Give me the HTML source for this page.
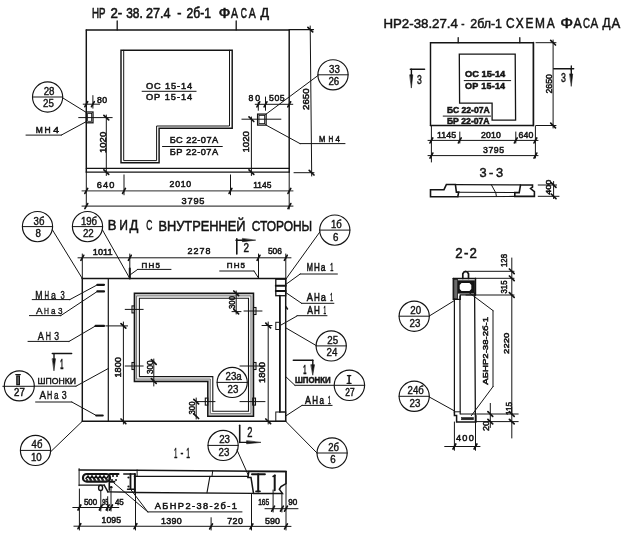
<!DOCTYPE html>
<html><head><meta charset="utf-8"><style>
html,body{margin:0;padding:0;background:#fff;width:631px;height:537px;overflow:hidden;}
svg{display:block;filter:blur(0.3px);}
text{font-family:"Liberation Sans",sans-serif;fill:#141414;}
</style></head><body>
<svg width="631" height="537" viewBox="0 0 631 537" stroke="#141414" stroke-linecap="round">
<rect x="0" y="0" width="631" height="537" fill="#fff" stroke="none"/>
<g>
<text transform="translate(92.10,17.80) scale(0.674,1)" font-size="14.4" stroke="#141414" stroke-width="0.6">НР</text>
<text transform="translate(110.40,17.80) scale(0.921,1)" font-size="14.4" stroke="#141414" stroke-width="0.6">2-</text>
<text transform="translate(126.20,17.80) scale(0.829,1)" font-size="14.4" stroke="#141414" stroke-width="0.6">38.</text>
<text transform="translate(146.00,17.80) scale(0.878,1)" font-size="14.4" stroke="#141414" stroke-width="0.6">27.4</text>
<text transform="translate(177.30,17.80) scale(0.871,1)" font-size="14.4" stroke="#141414" stroke-width="0.6">-</text>
<text transform="translate(186.60,17.80) scale(0.839,1)" font-size="14.4" stroke="#141414" stroke-width="0.6">2б-1</text>
<text transform="translate(218.80,17.80) scale(1.060,1)" font-size="14.4" stroke="#141414" stroke-width="0.6">Ф</text>
<text transform="translate(231.00,17.80) scale(0.726,1)" font-size="14.4" stroke="#141414" stroke-width="0.6">А</text>
<text transform="translate(240.80,17.80) scale(0.588,1)" font-size="14.4" stroke="#141414" stroke-width="0.6">С</text>
<text transform="translate(248.80,17.80) scale(0.726,1)" font-size="14.4" stroke="#141414" stroke-width="0.6">А</text>
<text transform="translate(260.50,17.00) scale(0.954,1)" font-size="13.2" stroke="#141414" stroke-width="0.6">Д</text>
<line x1="117.2" y1="21.0" x2="117.2" y2="29.9" stroke-width="1.3"/>
<line x1="236.2" y1="21.0" x2="236.2" y2="29.9" stroke-width="1.3"/>
<line x1="86.3" y1="29.9" x2="289.2" y2="29.9" stroke-width="1.45"/>
<line x1="86.3" y1="29.9" x2="86.3" y2="172.1" stroke-width="1.45"/>
<line x1="86.3" y1="172.1" x2="86.3" y2="206.5" stroke-width="1.0"/>
<line x1="289.2" y1="29.9" x2="289.2" y2="172.1" stroke-width="1.45"/>
<line x1="289.2" y1="172.1" x2="289.2" y2="209.0" stroke-width="1.0"/>
<line x1="86.3" y1="168.4" x2="289.2" y2="168.4" stroke-width="1.1"/>
<line x1="86.3" y1="172.1" x2="289.2" y2="172.1" stroke-width="1.45"/>
<polygon points="121.0,50.3 232.2,50.3 232.2,128.2 159.1,128.2 159.1,162.8 121.0,162.8" fill="none" stroke-width="1.45"/>
<polyline points="123.7,50.3 123.7,160.6 156.6,160.6 156.6,126.0 229.5,126.0 229.5,50.3" fill="none" stroke-width="1.0"/>
<text transform="translate(145.90,88.60) scale(1.050,1)" font-size="8.8" stroke="#141414" stroke-width="0.5" letter-spacing="0.86">ОС 15-14</text>
<line x1="142.1" y1="91.3" x2="196.1" y2="91.3" stroke-width="1.0"/>
<text transform="translate(145.90,100.30) scale(1.050,1)" font-size="8.8" stroke="#141414" stroke-width="0.5" letter-spacing="0.93">ОР 15-14</text>
<text transform="translate(169.70,143.40) scale(1.050,1)" font-size="8.8" stroke="#141414" stroke-width="0.5" letter-spacing="0.41">БС 22-07А</text>
<line x1="162.5" y1="146.5" x2="222.3" y2="146.5" stroke-width="1.0"/>
<text transform="translate(169.70,154.90) scale(1.050,1)" font-size="8.8" stroke="#141414" stroke-width="0.5" letter-spacing="0.46">БР 22-07А</text>
<rect x="86.3" y="112.0" width="6.7" height="10.8" fill="none" stroke-width="1.3"/>
<rect x="87.6" y="113.4" width="4.0" height="7.9" fill="none" stroke-width="0.8"/>
<line x1="78.7" y1="117.6" x2="112.2" y2="117.6" stroke-width="1.0"/>
<line x1="83.2" y1="104.2" x2="99.6" y2="104.2" stroke-width="1.0"/>
<line x1="84.9" y1="106.7" x2="87.7" y2="101.7" stroke-width="1.7"/>
<line x1="91.5" y1="106.7" x2="94.3" y2="101.7" stroke-width="1.7"/>
<line x1="92.9" y1="95.6" x2="92.9" y2="108.2" stroke-width="1.0"/>
<text transform="translate(97.00,102.50) scale(1.050,1)" font-size="8.3" stroke="#141414" stroke-width="0.5" letter-spacing="0.31">80</text>
<circle cx="47.6" cy="97.0" r="15.1" fill="none" stroke-width="1.15"/>
<line x1="32.5" y1="97.0" x2="62.7" y2="97.0" stroke-width="1.0"/>
<text transform="translate(43.70,95.00) scale(0.954,1)" font-size="10.2" stroke="#141414" stroke-width="0.4">28</text>
<text transform="translate(43.00,107.40) scale(0.954,1)" font-size="10.2" stroke="#141414" stroke-width="0.4">25</text>
<line x1="62.9" y1="98.0" x2="85.6" y2="112.0" stroke-width="1.0"/>
<text transform="translate(35.70,133.40) scale(0.924,1)" font-size="9.2" stroke="#141414" stroke-width="0.55">М</text>
<text transform="translate(44.60,133.40) scale(0.921,1)" font-size="9.2" stroke="#141414" stroke-width="0.55">Н</text>
<text transform="translate(53.20,133.40) scale(1.116,1)" font-size="9.2" stroke="#141414" stroke-width="0.55">4</text>
<line x1="26.0" y1="135.1" x2="61.3" y2="135.1" stroke-width="1.0"/>
<line x1="61.3" y1="135.1" x2="86.3" y2="121.6" stroke-width="1.0"/>
<line x1="106.3" y1="115.0" x2="106.3" y2="175.5" stroke-width="1.0"/>
<line x1="103.9" y1="115.3" x2="108.7" y2="119.9" stroke-width="1.7"/>
<line x1="103.9" y1="169.8" x2="108.7" y2="174.4" stroke-width="1.7"/>
<text transform="translate(105.67,153.00) rotate(-90) scale(1.153,1)" font-size="8.3" stroke="#141414" stroke-width="0.5">1020</text>
<rect x="257.6" y="114.1" width="8.5" height="11.0" fill="none" stroke-width="1.3"/>
<rect x="259.0" y="115.5" width="5.6" height="8.1" fill="none" stroke-width="0.8"/>
<line x1="241.9" y1="119.2" x2="280.9" y2="119.2" stroke-width="1.0"/>
<text transform="translate(248.60,101.30) scale(1.050,1)" font-size="8.3" stroke="#141414" stroke-width="0.5" letter-spacing="1.64">80</text>
<text transform="translate(269.00,101.30) scale(1.050,1)" font-size="8.3" stroke="#141414" stroke-width="0.5" letter-spacing="0.55">505</text>
<line x1="255.2" y1="104.3" x2="292.8" y2="104.3" stroke-width="1.0"/>
<line x1="256.9" y1="106.8" x2="259.7" y2="101.8" stroke-width="1.7"/>
<line x1="264.1" y1="106.8" x2="266.9" y2="101.8" stroke-width="1.7"/>
<line x1="287.8" y1="106.8" x2="290.6" y2="101.8" stroke-width="1.7"/>
<line x1="258.3" y1="102.3" x2="258.3" y2="110.3" stroke-width="1.0"/>
<line x1="265.5" y1="97.0" x2="265.5" y2="110.3" stroke-width="1.0"/>
<text transform="translate(249.17,152.50) rotate(-90) scale(1.164,1)" font-size="8.3" stroke="#141414" stroke-width="0.5">1020</text>
<line x1="251.4" y1="117.0" x2="251.4" y2="175.5" stroke-width="1.0"/>
<line x1="249.0" y1="116.9" x2="253.8" y2="121.5" stroke-width="1.7"/>
<line x1="249.0" y1="169.8" x2="253.8" y2="174.4" stroke-width="1.7"/>
<circle cx="333.0" cy="74.8" r="15.1" fill="none" stroke-width="1.15"/>
<line x1="317.9" y1="74.8" x2="348.1" y2="74.8" stroke-width="1.0"/>
<text transform="translate(329.10,72.80) scale(0.954,1)" font-size="10.2" stroke="#141414" stroke-width="0.4">33</text>
<text transform="translate(328.40,85.20) scale(0.954,1)" font-size="10.2" stroke="#141414" stroke-width="0.4">26</text>
<line x1="318.0" y1="75.5" x2="266.1" y2="114.1" stroke-width="1.0"/>
<text transform="translate(318.90,141.70) scale(0.820,1)" font-size="9.2" stroke="#141414" stroke-width="0.55">М</text>
<text transform="translate(328.40,141.70) scale(0.710,1)" font-size="9.2" stroke="#141414" stroke-width="0.55">Н</text>
<text transform="translate(335.40,141.70) scale(0.862,1)" font-size="9.2" stroke="#141414" stroke-width="0.55">4</text>
<line x1="300.0" y1="143.6" x2="345.0" y2="143.6" stroke-width="1.0"/>
<line x1="300.0" y1="143.6" x2="266.1" y2="125.1" stroke-width="1.0"/>
<line x1="310.2" y1="26.0" x2="311.7" y2="176.0" stroke-width="1.0"/>
<line x1="307.9" y1="27.3" x2="312.7" y2="31.9" stroke-width="1.7"/>
<line x1="309.2" y1="170.4" x2="314.0" y2="175.0" stroke-width="1.7"/>
<line x1="289.2" y1="29.6" x2="313.5" y2="29.6" stroke-width="1.2"/>
<line x1="294.0" y1="172.7" x2="314.0" y2="172.7" stroke-width="1.0"/>
<text transform="translate(308.67,109.90) rotate(-90) scale(1.164,1)" font-size="8.3" stroke="#141414" stroke-width="0.5">2650</text>
<line x1="82.0" y1="190.9" x2="293.0" y2="190.9" stroke-width="0.9"/>
<line x1="84.9" y1="193.4" x2="87.7" y2="188.4" stroke-width="1.7"/>
<line x1="122.6" y1="193.4" x2="125.4" y2="188.4" stroke-width="1.7"/>
<line x1="229.1" y1="193.4" x2="231.9" y2="188.4" stroke-width="1.7"/>
<line x1="288.0" y1="193.4" x2="290.8" y2="188.4" stroke-width="1.7"/>
<line x1="124.0" y1="174.9" x2="124.0" y2="194.8" stroke-width="1.0"/>
<line x1="230.5" y1="174.9" x2="230.5" y2="194.8" stroke-width="1.0"/>
<text transform="translate(96.80,187.60) scale(1.050,1)" font-size="8.8" stroke="#141414" stroke-width="0.5" letter-spacing="1.08">640</text>
<text transform="translate(169.60,187.40) scale(1.050,1)" font-size="8.3" stroke="#141414" stroke-width="0.5" letter-spacing="0.67">2010</text>
<text transform="translate(253.20,187.50) scale(0.962,1)" font-size="8.8" stroke="#141414" stroke-width="0.5">1145</text>
<line x1="82.0" y1="206.1" x2="293.0" y2="206.1" stroke-width="1.0"/>
<line x1="84.9" y1="208.6" x2="87.7" y2="203.6" stroke-width="1.7"/>
<line x1="288.0" y1="208.6" x2="290.8" y2="203.6" stroke-width="1.7"/>
<text transform="translate(181.50,203.80) scale(1.050,1)" font-size="8.8" stroke="#141414" stroke-width="0.5" letter-spacing="0.77">3795</text>
<text transform="translate(383.40,28.20) scale(0.984,1)" font-size="13.5" stroke="#141414" stroke-width="0.5">НР2-38.27.4</text>
<text transform="translate(461.30,28.20) scale(0.730,1)" font-size="13.5" stroke="#141414" stroke-width="0.5">-</text>
<text transform="translate(470.30,28.20) scale(0.919,1)" font-size="13.5" stroke="#141414" stroke-width="0.5">2бл-1</text>
<text transform="translate(506.00,28.20) scale(0.850,1)" font-size="14.0" stroke="#141414" stroke-width="0.5" letter-spacing="2.09">СХЕМА</text>
<text transform="translate(560.20,28.20) scale(1.212,1)" font-size="14.0" stroke="#141414" stroke-width="0.5">Ф</text>
<text transform="translate(573.50,28.20) scale(0.885,1)" font-size="14.0" stroke="#141414" stroke-width="0.5">А</text>
<text transform="translate(583.00,28.20) scale(0.694,1)" font-size="14.0" stroke="#141414" stroke-width="0.5">С</text>
<text transform="translate(590.50,28.20) scale(0.821,1)" font-size="14.0" stroke="#141414" stroke-width="0.5">А</text>
<text transform="translate(602.50,27.40) scale(0.926,1)" font-size="12.8" stroke="#141414" stroke-width="0.5">Д</text>
<text transform="translate(611.60,28.20) scale(0.938,1)" font-size="14.0" stroke="#141414" stroke-width="0.5">А</text>
<line x1="430.5" y1="42.7" x2="533.4" y2="42.7" stroke-width="1.45"/>
<line x1="430.5" y1="125.5" x2="533.4" y2="125.5" stroke-width="1.45"/>
<line x1="430.5" y1="42.7" x2="430.5" y2="125.5" stroke-width="1.45"/>
<line x1="533.4" y1="42.7" x2="533.4" y2="125.5" stroke-width="1.7"/>
<line x1="458.2" y1="37.7" x2="458.2" y2="42.7" stroke-width="1.3"/>
<line x1="519.8" y1="37.7" x2="519.8" y2="42.7" stroke-width="1.3"/>
<polygon points="459.3,54.1 515.2,54.1 515.6,120.1 492.1,120.1 492.1,103.1 459.6,103.1" fill="none" stroke-width="1.3"/>
<text transform="translate(465.10,76.60) scale(1.076,1)" font-size="8.6" font-weight="bold" stroke="#141414" stroke-width="0.5">ОС 15-14</text>
<line x1="464.2" y1="80.6" x2="510.7" y2="80.6" stroke-width="1.0"/>
<text transform="translate(465.10,89.10) scale(1.050,1)" font-size="8.6" font-weight="bold" stroke="#141414" stroke-width="0.5" letter-spacing="0.20">ОР 15-14</text>
<text transform="translate(446.90,113.40) scale(1.022,1)" font-size="8.4" font-weight="bold" stroke="#141414" stroke-width="0.5">БС 22-07А</text>
<line x1="443.2" y1="116.1" x2="490.6" y2="116.1" stroke-width="1.0"/>
<text transform="translate(446.90,123.80) scale(1.030,1)" font-size="8.4" font-weight="bold" stroke="#141414" stroke-width="0.5">БР 22-07А</text>
<line x1="553.1" y1="40.0" x2="553.1" y2="128.0" stroke-width="1.0"/>
<line x1="550.7" y1="40.4" x2="555.5" y2="45.0" stroke-width="1.7"/>
<line x1="550.7" y1="123.2" x2="555.5" y2="127.8" stroke-width="1.7"/>
<line x1="536.0" y1="42.7" x2="556.0" y2="42.7" stroke-width="1.0"/>
<line x1="536.0" y1="125.5" x2="556.0" y2="125.5" stroke-width="1.0"/>
<text transform="translate(552.27,93.50) rotate(-90) scale(1.056,1)" font-size="8.3" stroke="#141414" stroke-width="0.5">2650</text>
<line x1="410.3" y1="69.2" x2="424.6" y2="69.2" stroke-width="1.4"/>
<line x1="411.4" y1="69.2" x2="411.4" y2="74.8" stroke-width="1.4"/>
<polygon points="410.0,74.8 412.8,74.8 411.4,87.7" fill="#141414" stroke="#141414" stroke-width="0.6"/>
<text transform="translate(417.00,83.50) scale(0.641,1)" font-size="13.5" stroke="#141414" stroke-width="0.5">3</text>
<line x1="553.7" y1="68.7" x2="573.7" y2="68.7" stroke-width="1.4"/>
<line x1="571.3" y1="65.9" x2="571.3" y2="70.0" stroke-width="1.3"/>
<line x1="571.3" y1="68.7" x2="571.3" y2="73.9" stroke-width="1.4"/>
<polygon points="569.9,73.9 572.7,73.9 571.3,86.0" fill="#141414" stroke="#141414" stroke-width="0.6"/>
<text transform="translate(561.00,81.80) scale(0.654,1)" font-size="13.5" stroke="#141414" stroke-width="0.5">3</text>
<line x1="428.0" y1="140.4" x2="538.0" y2="140.4" stroke-width="1.0"/>
<line x1="430.0" y1="142.9" x2="432.8" y2="137.9" stroke-width="1.7"/>
<line x1="458.4" y1="142.9" x2="461.2" y2="137.9" stroke-width="1.7"/>
<line x1="514.4" y1="142.9" x2="517.2" y2="137.9" stroke-width="1.7"/>
<line x1="534.0" y1="142.9" x2="536.8" y2="137.9" stroke-width="1.7"/>
<line x1="431.4" y1="126.0" x2="431.4" y2="162.0" stroke-width="1.0"/>
<line x1="535.4" y1="126.0" x2="535.4" y2="158.0" stroke-width="1.0"/>
<line x1="459.8" y1="132.0" x2="459.8" y2="143.0" stroke-width="1.0"/>
<line x1="515.8" y1="132.0" x2="515.8" y2="143.0" stroke-width="1.0"/>
<text transform="translate(437.10,138.00) scale(1.065,1)" font-size="8.3" stroke="#141414" stroke-width="0.5">1145</text>
<text transform="translate(481.00,138.00) scale(1.050,1)" font-size="8.3" stroke="#141414" stroke-width="0.5" letter-spacing="0.19">2010</text>
<text transform="translate(518.50,138.00) scale(1.050,1)" font-size="8.3" stroke="#141414" stroke-width="0.5" letter-spacing="0.21">640</text>
<line x1="428.0" y1="155.6" x2="538.0" y2="155.6" stroke-width="1.0"/>
<line x1="430.0" y1="158.1" x2="432.8" y2="153.1" stroke-width="1.7"/>
<line x1="534.0" y1="158.1" x2="536.8" y2="153.1" stroke-width="1.7"/>
<text transform="translate(483.00,153.30) scale(1.050,1)" font-size="8.3" stroke="#141414" stroke-width="0.5" letter-spacing="0.51">3795</text>
<text transform="translate(479.40,177.30) scale(0.950,1)" font-size="13.5" stroke="#141414" stroke-width="0.5" letter-spacing="2.72">3-3</text>
<polygon points="430.5,196.7 430.5,189.7 444.0,189.7 446.4,184.5 455.4,184.5 456.4,192.1 458.7,192.1 457.8,196.7" fill="none" stroke-width="1.6"/>
<polygon points="520.5,185.0 532.5,185.0 532.5,187.2 530.6,188.5 534.4,191.6 534.4,196.4 514.8,196.4 514.8,192.6 519.2,192.6" fill="none" stroke-width="1.6"/>
<line x1="455.4" y1="184.6" x2="520.5" y2="184.9" stroke-width="1.1"/>
<line x1="458.7" y1="192.3" x2="514.8" y2="192.5" stroke-width="1.1"/>
<line x1="457.8" y1="196.8" x2="514.8" y2="196.4" stroke-width="1.1"/>
<polyline points="491.3,184.7 495.8,192.9 496.4,196.4" fill="none" stroke-width="1.0"/>
<line x1="538.2" y1="185.0" x2="556.6" y2="185.0" stroke-width="1.0"/>
<line x1="538.2" y1="196.3" x2="559.0" y2="196.3" stroke-width="1.0"/>
<line x1="553.6" y1="181.5" x2="553.6" y2="198.6" stroke-width="1.0"/>
<line x1="551.2" y1="182.7" x2="556.0" y2="187.3" stroke-width="1.7"/>
<line x1="551.2" y1="194.0" x2="556.0" y2="198.6" stroke-width="1.7"/>
<text transform="translate(551.12,194.80) rotate(-90) scale(1.198,1)" font-size="7.6" stroke="#141414" stroke-width="0.5">400</text>
<text transform="translate(107.80,230.40) scale(0.934,1)" font-size="14.0" stroke="#141414" stroke-width="0.5">В</text>
<text transform="translate(119.20,230.40) scale(0.863,1)" font-size="14.0" stroke="#141414" stroke-width="0.5">И</text>
<text transform="translate(129.60,230.40) scale(0.931,1)" font-size="14.0" stroke="#141414" stroke-width="0.5">Д</text>
<text transform="translate(146.20,230.40) scale(0.605,1)" font-size="14.0" stroke="#141414" stroke-width="0.5">С</text>
<text transform="translate(158.40,230.70) scale(0.916,1)" font-size="14.0" stroke="#141414" stroke-width="0.5">ВНУТРЕННЕЙ</text>
<text transform="translate(251.70,231.00) scale(0.853,1)" font-size="14.0" stroke="#141414" stroke-width="0.5">СТОРОНЫ</text>
<circle cx="37.5" cy="226.6" r="15.1" fill="none" stroke-width="1.15"/>
<line x1="22.4" y1="226.6" x2="52.6" y2="226.6" stroke-width="1.0"/>
<text transform="translate(33.60,224.60) scale(0.937,1)" font-size="10.2" stroke="#141414" stroke-width="0.4">3б</text>
<text transform="translate(35.60,237.00) scale(0.954,1)" font-size="10.2" stroke="#141414" stroke-width="0.4">8</text>
<circle cx="87.5" cy="226.6" r="15.1" fill="none" stroke-width="1.15"/>
<line x1="72.4" y1="226.6" x2="102.6" y2="226.6" stroke-width="1.0"/>
<text transform="translate(80.90,224.60) scale(0.943,1)" font-size="10.2" stroke="#141414" stroke-width="0.4">19б</text>
<text transform="translate(82.90,237.00) scale(0.954,1)" font-size="10.2" stroke="#141414" stroke-width="0.4">22</text>
<circle cx="334.8" cy="230.1" r="15.1" fill="none" stroke-width="1.15"/>
<line x1="319.7" y1="230.1" x2="349.9" y2="230.1" stroke-width="1.0"/>
<text transform="translate(330.90,228.10) scale(0.937,1)" font-size="10.2" stroke="#141414" stroke-width="0.4">1б</text>
<text transform="translate(332.90,240.50) scale(0.954,1)" font-size="10.2" stroke="#141414" stroke-width="0.4">6</text>
<line x1="52.5" y1="230.0" x2="82.3" y2="278.5" stroke-width="1.0"/>
<line x1="102.5" y1="230.0" x2="129.8" y2="278.5" stroke-width="1.0"/>
<line x1="319.8" y1="232.0" x2="285.8" y2="279.2" stroke-width="1.0"/>
<line x1="78.0" y1="257.8" x2="291.0" y2="257.8" stroke-width="1.0"/>
<line x1="80.9" y1="260.3" x2="83.7" y2="255.3" stroke-width="1.7"/>
<line x1="128.4" y1="260.3" x2="131.2" y2="255.3" stroke-width="1.7"/>
<line x1="257.1" y1="260.3" x2="259.9" y2="255.3" stroke-width="1.7"/>
<line x1="284.4" y1="260.3" x2="287.2" y2="255.3" stroke-width="1.7"/>
<line x1="82.3" y1="254.0" x2="82.3" y2="278.5" stroke-width="1.0"/>
<line x1="129.8" y1="254.0" x2="129.8" y2="278.5" stroke-width="1.0"/>
<line x1="258.5" y1="254.0" x2="258.5" y2="278.5" stroke-width="1.0"/>
<line x1="285.8" y1="254.0" x2="285.8" y2="278.5" stroke-width="1.0"/>
<line x1="129.8" y1="268.5" x2="129.8" y2="278.5" stroke-width="2"/>
<text transform="translate(92.80,254.50) scale(1.078,1)" font-size="8.5" stroke="#141414" stroke-width="0.5">1011</text>
<text transform="translate(187.50,254.30) scale(1.050,1)" font-size="8.5" stroke="#141414" stroke-width="0.5" letter-spacing="1.00">2278</text>
<text transform="translate(267.90,254.30) scale(0.993,1)" font-size="8.5" stroke="#141414" stroke-width="0.5">506</text>
<line x1="236.8" y1="238.8" x2="236.8" y2="254.0" stroke-width="1.6"/>
<line x1="236.0" y1="240.2" x2="242.4" y2="240.2" stroke-width="1.4"/>
<polygon points="242.4,238.7 242.4,241.7 255.3,240.2" fill="#141414" stroke="#141414" stroke-width="0.6"/>
<text transform="translate(243.40,251.80) scale(0.826,1)" font-size="12.0" stroke="#141414" stroke-width="0.5">2</text>
<text transform="translate(141.60,267.70) scale(1.050,1)" font-size="7.6" stroke="#141414" stroke-width="0.5" letter-spacing="1.13">ПН5</text>
<line x1="130.2" y1="274.8" x2="137.7" y2="269.4" stroke-width="1.0"/>
<line x1="137.7" y1="269.4" x2="171.0" y2="269.4" stroke-width="1.0"/>
<text transform="translate(226.80,267.90) scale(1.050,1)" font-size="7.6" stroke="#141414" stroke-width="0.5" letter-spacing="1.09">ПН5</text>
<line x1="219.7" y1="271.0" x2="254.0" y2="271.0" stroke-width="1.0"/>
<line x1="254.0" y1="271.0" x2="258.5" y2="278.0" stroke-width="1.0"/>
<line x1="82.3" y1="278.5" x2="285.8" y2="278.5" stroke-width="1.45"/>
<line x1="82.3" y1="278.5" x2="82.3" y2="421.3" stroke-width="1.45"/>
<line x1="285.7" y1="278.5" x2="285.7" y2="421.3" stroke-width="1.45"/>
<line x1="82.3" y1="421.3" x2="285.7" y2="421.3" stroke-width="1.45"/>
<line x1="108.3" y1="278.5" x2="108.3" y2="421.3" stroke-width="1.2"/>
<rect x="275.8" y="279.2" width="9.9" height="16.5" fill="none" stroke-width="1.3"/>
<line x1="275.8" y1="285.8" x2="285.7" y2="285.8" stroke-width="2"/>
<line x1="275.8" y1="291.0" x2="285.7" y2="291.0" stroke-width="2"/>
<line x1="279.9" y1="295.7" x2="279.9" y2="412.0" stroke-width="1.8"/>
<line x1="281.0" y1="412.0" x2="285.7" y2="412.0" stroke-width="1.0"/>
<rect x="275.8" y="412.0" width="9.9" height="9.3" fill="none" stroke-width="1.0"/>
<rect x="275.8" y="322.3" width="4.2" height="7.2" fill="none" stroke-width="1.0"/>
<line x1="285.7" y1="306.5" x2="287.5" y2="309.0" stroke-width="1.5"/>
<line x1="97.4" y1="284.8" x2="104.0" y2="284.8" stroke-width="2.2"/>
<line x1="97.4" y1="291.4" x2="104.0" y2="291.4" stroke-width="2.2"/>
<line x1="95.6" y1="325.9" x2="104.0" y2="325.9" stroke-width="2.2"/>
<line x1="96.3" y1="415.5" x2="102.7" y2="415.5" stroke-width="2.2"/>
<text transform="translate(35.30,298.90) scale(0.857,1)" font-size="10.2" stroke="#141414" stroke-width="0.4">М</text>
<text transform="translate(44.40,298.90) scale(0.613,1)" font-size="10.2" stroke="#141414" stroke-width="0.4">Н</text>
<text transform="translate(51.00,298.90) scale(0.858,1)" font-size="10.2" stroke="#141414" stroke-width="0.4">а</text>
<text transform="translate(60.40,298.90) scale(0.742,1)" font-size="10.2" stroke="#141414" stroke-width="0.4">3</text>
<line x1="32.2" y1="299.6" x2="69.8" y2="299.6" stroke-width="1.0"/>
<line x1="69.8" y1="299.6" x2="97.4" y2="284.8" stroke-width="1.0"/>
<text transform="translate(36.00,313.50) scale(0.995,1)" font-size="9.9" stroke="#141414" stroke-width="0.4">А</text>
<text transform="translate(44.00,313.50) scale(0.687,1)" font-size="9.9" stroke="#141414" stroke-width="0.4">Н</text>
<text transform="translate(51.00,313.50) scale(0.812,1)" font-size="9.9" stroke="#141414" stroke-width="0.4">а</text>
<text transform="translate(58.00,313.50) scale(0.819,1)" font-size="9.9" stroke="#141414" stroke-width="0.4">3</text>
<line x1="29.4" y1="315.6" x2="60.8" y2="315.6" stroke-width="1.0"/>
<line x1="60.8" y1="315.6" x2="97.4" y2="291.4" stroke-width="1.0"/>
<text transform="translate(37.80,339.60) scale(0.873,1)" font-size="10.6" stroke="#141414" stroke-width="0.4">А</text>
<text transform="translate(45.80,339.60) scale(0.681,1)" font-size="10.6" stroke="#141414" stroke-width="0.4">Н</text>
<text transform="translate(54.20,339.60) scale(0.816,1)" font-size="10.6" stroke="#141414" stroke-width="0.4">3</text>
<line x1="28.0" y1="341.4" x2="69.1" y2="341.4" stroke-width="1.0"/>
<line x1="69.1" y1="341.4" x2="95.6" y2="325.9" stroke-width="1.0"/>
<text transform="translate(37.50,384.10) scale(0.986,1)" font-size="8.8" stroke="#141414" stroke-width="0.45">ШПОНКИ</text>
<line x1="34.2" y1="386.2" x2="76.0" y2="386.2" stroke-width="1.0"/>
<line x1="76.0" y1="386.2" x2="108.3" y2="368.5" stroke-width="1.0"/>
<text transform="translate(39.40,399.20) scale(0.985,1)" font-size="10.0" stroke="#141414" stroke-width="0.4">А</text>
<text transform="translate(47.10,399.20) scale(0.722,1)" font-size="10.0" stroke="#141414" stroke-width="0.4">Н</text>
<text transform="translate(54.10,399.20) scale(0.804,1)" font-size="10.0" stroke="#141414" stroke-width="0.4">а</text>
<text transform="translate(61.70,399.20) scale(0.883,1)" font-size="10.0" stroke="#141414" stroke-width="0.4">3</text>
<line x1="35.6" y1="402.0" x2="71.8" y2="402.0" stroke-width="1.0"/>
<line x1="71.8" y1="402.0" x2="96.3" y2="415.5" stroke-width="1.0"/>
<line x1="52.3" y1="353.6" x2="71.6" y2="353.6" stroke-width="1.5"/>
<line x1="54.0" y1="353.6" x2="54.0" y2="358.7" stroke-width="1.4"/>
<polygon points="52.5,358.7 55.5,358.7 54.0,370.5" fill="#141414" stroke="#141414" stroke-width="0.6"/>
<text transform="translate(60.20,368.80) scale(0.372,1)" font-size="15.0" font-weight="bold" stroke="#141414" stroke-width="0.5">1</text>
<circle cx="19.3" cy="385.9" r="15.0" fill="none" stroke-width="1.15"/>
<line x1="2.8" y1="386.3" x2="34.3" y2="386.3" stroke-width="1.0"/>
<line x1="15.8" y1="374.6" x2="20.3" y2="374.6" stroke-width="1.3"/>
<rect x="16.2" y="375.4" width="3.8" height="9.9" fill="#141414" stroke="none"/>
<rect x="17.6" y="376.5" width="1.0" height="7.6" fill="#999" stroke="none"/>
<text transform="translate(14.10,396.00) scale(0.909,1)" font-size="10.6" stroke="#141414" stroke-width="0.5">27</text>
<line x1="123.4" y1="322.0" x2="123.4" y2="424.0" stroke-width="1.0"/>
<line x1="121.0" y1="323.6" x2="125.8" y2="328.2" stroke-width="1.7"/>
<line x1="121.0" y1="419.0" x2="125.8" y2="423.6" stroke-width="1.7"/>
<line x1="105.8" y1="325.9" x2="127.6" y2="325.9" stroke-width="1.0"/>
<text transform="translate(121.47,377.50) rotate(-90) scale(1.110,1)" font-size="8.3" stroke="#141414" stroke-width="0.5">1800</text>
<polygon points="135.7,294.6 252.2,294.6 252.2,414.9 209.1,414.9 209.1,380.3 135.7,380.3" fill="none" stroke-width="1.6" stroke="#c4c4c4"/>
<polygon points="134.4,293.3 253.5,293.3 253.5,416.2 207.8,416.2 207.8,381.6 134.4,381.6" fill="none" stroke-width="1.5"/>
<polygon points="137.0,295.9 250.9,295.9 250.9,413.6 210.4,413.6 210.4,379.0 137.0,379.0" fill="none" stroke-width="0.8" stroke="#555"/>
<polygon points="139.4,298.3 248.5,298.3 248.5,411.2 212.8,411.2 212.8,376.6 139.4,376.6" fill="none" stroke-width="1.1"/>
<line x1="125.2" y1="309.4" x2="143.2" y2="309.4" stroke-width="1.0"/>
<rect x="132.0" y="305.9" width="2.4" height="7.0" fill="none" stroke-width="1.1"/>
<line x1="125.2" y1="366.0" x2="143.2" y2="366.0" stroke-width="1.0"/>
<rect x="132.0" y="362.5" width="2.4" height="7.0" fill="none" stroke-width="1.1"/>
<line x1="244.0" y1="311.0" x2="262.0" y2="311.0" stroke-width="1.0"/>
<rect x="253.5" y="307.5" width="2.5" height="7.0" fill="none" stroke-width="1.1"/>
<line x1="240.0" y1="366.0" x2="265.0" y2="366.0" stroke-width="1.0"/>
<rect x="253.5" y="362.5" width="2.5" height="7.0" fill="none" stroke-width="1.1"/>
<line x1="240.0" y1="401.6" x2="265.0" y2="401.6" stroke-width="1.0"/>
<rect x="252.7" y="398.1" width="2.8" height="7.0" fill="none" stroke-width="1.1"/>
<line x1="197.2" y1="401.6" x2="215.0" y2="401.6" stroke-width="1.0"/>
<rect x="205.3" y="398.1" width="2.5" height="7.0" fill="none" stroke-width="1.1"/>
<line x1="236.2" y1="291.0" x2="236.2" y2="314.0" stroke-width="1.0"/>
<line x1="233.8" y1="291.0" x2="238.6" y2="295.6" stroke-width="1.7"/>
<line x1="233.8" y1="309.3" x2="238.6" y2="313.9" stroke-width="1.7"/>
<line x1="232.0" y1="311.6" x2="241.0" y2="311.6" stroke-width="1.0"/>
<text transform="translate(235.37,309.00) rotate(-90) scale(0.938,1)" font-size="8.3" stroke="#141414" stroke-width="0.5">300</text>
<line x1="153.8" y1="359.0" x2="153.8" y2="386.0" stroke-width="1.0"/>
<line x1="151.4" y1="359.7" x2="156.2" y2="364.3" stroke-width="1.7"/>
<line x1="151.4" y1="378.7" x2="156.2" y2="383.3" stroke-width="1.7"/>
<text transform="translate(152.97,374.00) rotate(-90) scale(0.974,1)" font-size="8.3" stroke="#141414" stroke-width="0.5">300</text>
<line x1="196.2" y1="398.0" x2="196.2" y2="419.0" stroke-width="1.0"/>
<line x1="193.8" y1="399.3" x2="198.6" y2="403.9" stroke-width="1.7"/>
<line x1="193.8" y1="413.9" x2="198.6" y2="418.5" stroke-width="1.7"/>
<text transform="translate(194.77,414.50) rotate(-90) scale(0.938,1)" font-size="8.3" stroke="#141414" stroke-width="0.5">300</text>
<line x1="268.2" y1="322.0" x2="268.2" y2="424.0" stroke-width="1.0"/>
<line x1="265.8" y1="323.2" x2="270.6" y2="327.8" stroke-width="1.7"/>
<line x1="265.8" y1="419.0" x2="270.6" y2="423.6" stroke-width="1.7"/>
<line x1="262.0" y1="325.5" x2="272.0" y2="325.5" stroke-width="1.0"/>
<text transform="translate(264.57,383.00) rotate(-90) scale(1.137,1)" font-size="8.3" stroke="#141414" stroke-width="0.5">1800</text>
<circle cx="232.2" cy="382.4" r="15.1" fill="none" stroke-width="1.15"/>
<line x1="217.1" y1="382.4" x2="247.3" y2="382.4" stroke-width="1.0"/>
<text transform="translate(225.60,380.40) scale(0.951,1)" font-size="10.2" stroke="#141414" stroke-width="0.4">23а</text>
<text transform="translate(227.60,392.80) scale(0.954,1)" font-size="10.2" stroke="#141414" stroke-width="0.4">23</text>
<text transform="translate(306.80,271.40) scale(0.735,1)" font-size="10.1" stroke="#141414" stroke-width="0.55">М</text>
<text transform="translate(314.00,271.40) scale(0.798,1)" font-size="10.1" stroke="#141414" stroke-width="0.55">Н</text>
<text transform="translate(320.80,271.40) scale(0.831,1)" font-size="10.1" stroke="#141414" stroke-width="0.55">а</text>
<text transform="translate(330.20,271.40) scale(0.553,1)" font-size="10.1" stroke="#141414" stroke-width="0.55">1</text>
<line x1="300.2" y1="274.0" x2="337.4" y2="274.0" stroke-width="1.0"/>
<line x1="300.2" y1="274.0" x2="285.7" y2="284.5" stroke-width="1.0"/>
<text transform="translate(306.80,301.00) scale(0.873,1)" font-size="10.6" stroke="#141414" stroke-width="0.55">А</text>
<text transform="translate(314.00,301.00) scale(0.760,1)" font-size="10.6" stroke="#141414" stroke-width="0.55">Н</text>
<text transform="translate(320.80,301.00) scale(0.876,1)" font-size="10.6" stroke="#141414" stroke-width="0.55">а</text>
<text transform="translate(330.20,301.00) scale(0.442,1)" font-size="10.6" stroke="#141414" stroke-width="0.55">1</text>
<line x1="301.7" y1="303.3" x2="333.9" y2="303.3" stroke-width="1.0"/>
<line x1="301.7" y1="303.4" x2="285.7" y2="292.5" stroke-width="1.0"/>
<text transform="translate(307.30,313.60) scale(0.842,1)" font-size="10.1" stroke="#141414" stroke-width="0.55">А</text>
<text transform="translate(314.00,313.60) scale(0.798,1)" font-size="10.1" stroke="#141414" stroke-width="0.55">Н</text>
<text transform="translate(323.40,313.60) scale(0.464,1)" font-size="10.1" stroke="#141414" stroke-width="0.55">1</text>
<line x1="297.0" y1="315.7" x2="327.0" y2="315.7" stroke-width="1.0"/>
<line x1="297.0" y1="316.0" x2="281.0" y2="325.0" stroke-width="1.0"/>
<circle cx="331.2" cy="345.9" r="15.1" fill="none" stroke-width="1.15"/>
<line x1="316.1" y1="345.9" x2="346.3" y2="345.9" stroke-width="1.0"/>
<text transform="translate(327.30,343.90) scale(0.954,1)" font-size="10.2" stroke="#141414" stroke-width="0.4">25</text>
<text transform="translate(326.60,356.30) scale(0.954,1)" font-size="10.2" stroke="#141414" stroke-width="0.4">24</text>
<line x1="316.1" y1="345.5" x2="285.7" y2="327.8" stroke-width="1.0"/>
<line x1="293.3" y1="360.3" x2="312.8" y2="360.3" stroke-width="1.5"/>
<line x1="312.8" y1="360.3" x2="312.8" y2="364.7" stroke-width="1.4"/>
<polygon points="311.1,364.7 314.5,364.7 312.8,374.8" fill="#141414" stroke="#141414" stroke-width="0.6"/>
<text transform="translate(303.20,373.50) scale(0.414,1)" font-size="13.5" font-weight="bold" stroke="#141414" stroke-width="0.5">1</text>
<text transform="translate(294.90,383.10) scale(0.936,1)" font-size="8.4" font-weight="bold" stroke="#141414" stroke-width="0.5">ШПОНКИ</text>
<circle cx="349.4" cy="385.3" r="15.2" fill="none" stroke-width="1.15"/>
<line x1="294.9" y1="385.3" x2="364.7" y2="385.3" stroke-width="1.0"/>
<line x1="294.9" y1="385.3" x2="285.7" y2="376.6" stroke-width="1.0"/>
<line x1="347.4" y1="375.6" x2="350.8" y2="375.6" stroke-width="1.3"/>
<line x1="347.2" y1="383.4" x2="351.0" y2="383.4" stroke-width="1.4"/>
<line x1="349.1" y1="375.6" x2="349.1" y2="383.4" stroke-width="1.5"/>
<text transform="translate(345.30,395.50) scale(0.806,1)" font-size="10.4" stroke="#141414" stroke-width="0.5">27</text>
<text transform="translate(305.10,403.60) scale(0.872,1)" font-size="10.1" stroke="#141414" stroke-width="0.55">А</text>
<text transform="translate(312.30,403.60) scale(0.784,1)" font-size="10.1" stroke="#141414" stroke-width="0.55">Н</text>
<text transform="translate(319.50,403.60) scale(0.796,1)" font-size="10.1" stroke="#141414" stroke-width="0.55">а</text>
<text transform="translate(328.00,403.60) scale(0.482,1)" font-size="10.1" stroke="#141414" stroke-width="0.55">1</text>
<line x1="302.0" y1="405.4" x2="332.1" y2="405.4" stroke-width="1.0"/>
<line x1="302.0" y1="405.4" x2="285.7" y2="416.0" stroke-width="1.0"/>
<circle cx="35.5" cy="450.4" r="15.1" fill="none" stroke-width="1.15"/>
<line x1="20.4" y1="450.4" x2="50.6" y2="450.4" stroke-width="1.0"/>
<text transform="translate(31.60,448.40) scale(0.937,1)" font-size="10.2" stroke="#141414" stroke-width="0.4">4б</text>
<text transform="translate(30.90,460.80) scale(0.954,1)" font-size="10.2" stroke="#141414" stroke-width="0.4">10</text>
<line x1="50.7" y1="451.7" x2="82.3" y2="421.3" stroke-width="1.0"/>
<circle cx="332.1" cy="453.0" r="15.1" fill="none" stroke-width="1.15"/>
<line x1="317.0" y1="453.0" x2="347.2" y2="453.0" stroke-width="1.0"/>
<text transform="translate(328.20,451.00) scale(0.937,1)" font-size="10.2" stroke="#141414" stroke-width="0.4">2б</text>
<text transform="translate(330.20,463.40) scale(0.954,1)" font-size="10.2" stroke="#141414" stroke-width="0.4">6</text>
<line x1="317.0" y1="453.0" x2="285.7" y2="421.3" stroke-width="1.0"/>
<line x1="239.7" y1="425.2" x2="239.7" y2="442.4" stroke-width="1.6"/>
<line x1="239.7" y1="442.4" x2="246.6" y2="442.4" stroke-width="1.4"/>
<polygon points="246.6,441.0 246.6,443.8 260.6,442.4" fill="#141414" stroke="#141414" stroke-width="0.6"/>
<text transform="translate(247.30,436.70) scale(0.646,1)" font-size="14.5" stroke="#141414" stroke-width="0.5">2</text>
<text transform="translate(174.00,458.00) scale(0.438,1)" font-size="14.0" stroke="#141414" stroke-width="0.5">1</text>
<text transform="translate(180.60,458.00) scale(0.618,1)" font-size="14.0" stroke="#141414" stroke-width="0.4">-</text>
<text transform="translate(186.20,458.00) scale(0.489,1)" font-size="14.0" stroke="#141414" stroke-width="0.5">1</text>
<circle cx="223.1" cy="445.4" r="15.1" fill="none" stroke-width="1.15"/>
<line x1="208.0" y1="445.4" x2="238.2" y2="445.4" stroke-width="1.0"/>
<text transform="translate(219.20,443.40) scale(0.954,1)" font-size="10.2" stroke="#141414" stroke-width="0.4">23</text>
<text transform="translate(218.50,455.80) scale(0.954,1)" font-size="10.2" stroke="#141414" stroke-width="0.4">23</text>
<line x1="237.0" y1="450.0" x2="248.4" y2="475.4" stroke-width="1.0"/>
<line x1="79.1" y1="470.0" x2="137.1" y2="470.3" stroke-width="1.45"/>
<line x1="137.1" y1="470.3" x2="286.0" y2="471.5" stroke-width="1.45"/>
<line x1="79.1" y1="468.6" x2="79.1" y2="485.7" stroke-width="1.0"/>
<line x1="79.4" y1="489.0" x2="79.4" y2="530.0" stroke-width="1.0"/>
<line x1="79.1" y1="485.1" x2="104.2" y2="485.1" stroke-width="1.45"/>
<line x1="104.2" y1="485.1" x2="107.9" y2="491.9" stroke-width="1.45"/>
<line x1="107.9" y1="491.9" x2="134.9" y2="492.3" stroke-width="1.45"/>
<rect x="83" y="474" width="27" height="7.7" rx="3.8" fill="none" stroke-width="2.2"/>
<line x1="110.0" y1="481.7" x2="114.4" y2="481.7" stroke-width="2"/>
<line x1="110.1" y1="474.0" x2="118.5" y2="474.0" stroke-width="2"/>
<polyline points="86.0,478.5 88.0,476.0 90.0,479.0 92.0,476.0 94.0,479.0 96.0,476.0 98.0,479.0 100.0,476.0 102.0,479.0 104.0,476.0 106.0,479.0 108.0,476.5" fill="none" stroke-width="1.6"/>
<circle cx="87" cy="480" r="1.0" fill="#141414" stroke="none"/>
<circle cx="91" cy="480" r="1.0" fill="#141414" stroke="none"/>
<circle cx="95" cy="480" r="1.0" fill="#141414" stroke="none"/>
<circle cx="99" cy="480" r="1.0" fill="#141414" stroke="none"/>
<circle cx="103" cy="480" r="1.0" fill="#141414" stroke="none"/>
<circle cx="107" cy="480" r="1.0" fill="#141414" stroke="none"/>
<circle cx="112" cy="480" r="1.0" fill="#141414" stroke="none"/>
<circle cx="116" cy="480" r="1.0" fill="#141414" stroke="none"/>
<circle cx="113" cy="476" r="1.1" fill="#141414" stroke="none"/><circle cx="117" cy="476" r="1.1" fill="#141414" stroke="none"/>
<line x1="109.3" y1="474.0" x2="109.3" y2="490.1" stroke-width="1.6"/>
<ellipse cx="100.6" cy="487.9" rx="2" ry="2.6" fill="none" stroke-width="1.4"/>
<circle cx="111.2" cy="487.3" r="1.3" fill="#141414" stroke="none"/>
<line x1="123.8" y1="474.0" x2="134.9" y2="474.0" stroke-width="1.6"/>
<line x1="130.5" y1="474.0" x2="130.5" y2="489.2" stroke-width="1.8"/>
<line x1="127.5" y1="489.2" x2="134.9" y2="489.2" stroke-width="1.4"/>
<circle cx="128.5" cy="477.5" r="1.1" fill="#141414" stroke="none"/><circle cx="128.5" cy="486.5" r="1.1" fill="#141414" stroke="none"/>
<line x1="134.9" y1="474.0" x2="134.9" y2="492.5" stroke-width="2"/>
<line x1="137.1" y1="470.3" x2="137.1" y2="476.3" stroke-width="1.0"/>
<line x1="134.3" y1="476.3" x2="248.0" y2="476.4" stroke-width="1.2"/>
<line x1="134.9" y1="492.5" x2="253.5" y2="493.4" stroke-width="1.3"/>
<polyline points="212.7,470.8 212.0,476.3" fill="none" stroke-width="1.0"/>
<line x1="209.9" y1="476.4" x2="207.0" y2="492.7" stroke-width="1.1"/>
<polygon points="248.9,471.5 286.0,471.5 286.0,483.6 281.0,486.5 279.3,489.3 282.4,493.4 253.5,493.4 251.0,477.5 247.9,477.5" fill="none" stroke-width="1.5"/>
<line x1="252.0" y1="474.2" x2="264.9" y2="474.2" stroke-width="2"/>
<line x1="258.2" y1="474.2" x2="258.2" y2="491.4" stroke-width="2"/>
<line x1="256.0" y1="491.4" x2="260.0" y2="491.4" stroke-width="1.6"/>
<line x1="274.7" y1="475.4" x2="274.7" y2="490.3" stroke-width="2"/>
<line x1="273.0" y1="476.5" x2="275.0" y2="475.4" stroke-width="1.5"/>
<line x1="251.5" y1="493.4" x2="251.5" y2="530.0" stroke-width="1.0"/>
<line x1="273.1" y1="490.0" x2="273.1" y2="512.0" stroke-width="1.0"/>
<line x1="281.9" y1="493.0" x2="281.9" y2="512.0" stroke-width="1.0"/>
<line x1="286.0" y1="471.5" x2="286.0" y2="530.0" stroke-width="1.0"/>
<line x1="100.8" y1="490.5" x2="100.8" y2="511.0" stroke-width="1.0"/>
<line x1="107.7" y1="496.7" x2="107.7" y2="511.0" stroke-width="1.0"/>
<line x1="111.0" y1="489.0" x2="111.0" y2="511.0" stroke-width="1.0"/>
<line x1="135.5" y1="492.7" x2="135.5" y2="530.0" stroke-width="1.0"/>
<line x1="211.1" y1="517.7" x2="211.1" y2="530.0" stroke-width="1.0"/>
<line x1="72.8" y1="507.5" x2="118.8" y2="507.5" stroke-width="1.0"/>
<line x1="78.0" y1="510.0" x2="80.8" y2="505.0" stroke-width="1.7"/>
<line x1="99.4" y1="510.0" x2="102.2" y2="505.0" stroke-width="1.7"/>
<line x1="106.3" y1="510.0" x2="109.1" y2="505.0" stroke-width="1.7"/>
<line x1="109.6" y1="510.0" x2="112.4" y2="505.0" stroke-width="1.7"/>
<text transform="translate(83.90,505.00) scale(0.960,1)" font-size="8.3" stroke="#141414" stroke-width="0.5">500</text>
<text transform="translate(102.20,505.00) scale(0.662,1)" font-size="8.3" stroke="#141414" stroke-width="0.5">95</text>
<text transform="translate(114.90,505.00) scale(0.966,1)" font-size="8.3" stroke="#141414" stroke-width="0.5">45</text>
<line x1="265.0" y1="508.7" x2="298.0" y2="508.7" stroke-width="1.0"/>
<line x1="271.7" y1="511.2" x2="274.5" y2="506.2" stroke-width="1.7"/>
<line x1="280.5" y1="511.2" x2="283.3" y2="506.2" stroke-width="1.7"/>
<line x1="284.6" y1="511.2" x2="287.4" y2="506.2" stroke-width="1.7"/>
<text transform="translate(258.20,505.00) scale(0.794,1)" font-size="8.3" stroke="#141414" stroke-width="0.5">165</text>
<text transform="translate(288.30,505.00) scale(0.977,1)" font-size="8.3" stroke="#141414" stroke-width="0.5">90</text>
<line x1="73.9" y1="526.2" x2="291.0" y2="526.4" stroke-width="1.0"/>
<line x1="78.0" y1="528.7" x2="80.8" y2="523.7" stroke-width="1.7"/>
<line x1="134.1" y1="528.7" x2="136.9" y2="523.7" stroke-width="1.7"/>
<line x1="209.7" y1="528.9" x2="212.5" y2="523.9" stroke-width="1.7"/>
<line x1="250.1" y1="528.9" x2="252.9" y2="523.9" stroke-width="1.7"/>
<line x1="284.6" y1="528.9" x2="287.4" y2="523.9" stroke-width="1.7"/>
<text transform="translate(101.60,522.70) scale(1.026,1)" font-size="8.5" stroke="#141414" stroke-width="0.5">1095</text>
<text transform="translate(160.90,523.80) scale(1.050,1)" font-size="8.5" stroke="#141414" stroke-width="0.5" letter-spacing="0.33">1390</text>
<text transform="translate(227.20,523.80) scale(1.050,1)" font-size="8.5" stroke="#141414" stroke-width="0.5" letter-spacing="0.38">720</text>
<text transform="translate(265.00,523.60) scale(1.057,1)" font-size="8.5" stroke="#141414" stroke-width="0.5">590</text>
<text transform="translate(154.80,509.30) scale(1.050,1)" font-size="8.8" stroke="#141414" stroke-width="0.5" letter-spacing="1.33">АБНР2-38-2б-1</text>
<line x1="147.8" y1="511.9" x2="242.0" y2="511.9" stroke-width="1.0"/>
<line x1="147.8" y1="511.9" x2="113.7" y2="482.8" stroke-width="1.0"/>
<line x1="147.8" y1="511.9" x2="130.5" y2="489.2" stroke-width="1.0"/>
<text transform="translate(455.30,257.90) scale(0.950,1)" font-size="14.0" stroke="#141414" stroke-width="0.5" letter-spacing="1.25">2-2</text>
<circle cx="414.2" cy="316.2" r="15.1" fill="none" stroke-width="1.15"/>
<line x1="399.1" y1="316.2" x2="429.3" y2="316.2" stroke-width="1.0"/>
<text transform="translate(410.30,314.20) scale(0.954,1)" font-size="10.2" stroke="#141414" stroke-width="0.4">20</text>
<text transform="translate(409.60,326.60) scale(0.954,1)" font-size="10.2" stroke="#141414" stroke-width="0.4">23</text>
<line x1="429.3" y1="316.0" x2="454.3" y2="300.6" stroke-width="1.0"/>
<circle cx="414.2" cy="396.3" r="15.1" fill="none" stroke-width="1.15"/>
<line x1="399.1" y1="396.3" x2="429.3" y2="396.3" stroke-width="1.0"/>
<text transform="translate(407.60,394.30) scale(0.943,1)" font-size="10.2" stroke="#141414" stroke-width="0.4">24б</text>
<text transform="translate(409.60,406.70) scale(0.954,1)" font-size="10.2" stroke="#141414" stroke-width="0.4">23</text>
<line x1="429.3" y1="397.0" x2="454.4" y2="410.9" stroke-width="1.0"/>
<polyline points="462.8,278.4 462.8,273.8 464.0,272.0 465.6,271.5 467.3,272.0 468.5,273.8 468.5,278.4" fill="none" stroke-width="1.7"/>
<line x1="453.3" y1="278.4" x2="475.5" y2="278.4" stroke-width="1.45"/>
<line x1="453.3" y1="278.4" x2="453.3" y2="299.3" stroke-width="1.45"/>
<line x1="475.5" y1="278.4" x2="475.5" y2="294.9" stroke-width="1.45"/>
<rect x="453.8" y="279.5" width="3.6" height="19.3" fill="#6a6a6a" stroke-width="0.8"/>
<rect x="457.7" y="280.3" width="17.2" height="13.3" fill="#141414" stroke="none"/>
<polygon points="461.5,283 469.5,283 471.3,285 471.3,289 469.5,291 461.5,291 459.7,289 459.7,285" fill="#fff" stroke="none"/>
<polyline points="453.3,299.3 460.3,299.3 460.3,294.9 475.5,294.9" fill="none" stroke-width="1.3"/>
<line x1="454.4" y1="299.0" x2="454.4" y2="412.3" stroke-width="1.2"/>
<line x1="459.9" y1="296.0" x2="460.2" y2="413.7" stroke-width="1.2"/>
<line x1="474.6" y1="293.2" x2="475.4" y2="421.8" stroke-width="1.3"/>
<polyline points="454.4,411.8 454.4,415.4 456.6,415.4 456.6,422.0 475.9,422.0 475.9,415.6" fill="none" stroke-width="1.5"/>
<line x1="454.4" y1="411.8" x2="460.2" y2="411.8" stroke-width="1.0"/>
<line x1="460.2" y1="414.0" x2="475.4" y2="414.0" stroke-width="1.0"/>
<rect x="461.5" y="417.5" width="12.0" height="2.3" fill="#222" stroke-width="0.5"/>
<line x1="511.8" y1="258.0" x2="511.8" y2="438.0" stroke-width="1.0"/>
<line x1="509.4" y1="269.0" x2="514.2" y2="273.6" stroke-width="1.7"/>
<line x1="509.4" y1="276.0" x2="514.2" y2="280.6" stroke-width="1.7"/>
<line x1="509.4" y1="292.7" x2="514.2" y2="297.3" stroke-width="1.7"/>
<line x1="509.4" y1="411.7" x2="514.2" y2="416.3" stroke-width="1.7"/>
<line x1="509.4" y1="419.3" x2="514.2" y2="423.9" stroke-width="1.7"/>
<line x1="467.8" y1="271.3" x2="514.0" y2="271.3" stroke-width="1.0"/>
<line x1="475.7" y1="278.3" x2="514.0" y2="278.3" stroke-width="1.0"/>
<line x1="466.0" y1="295.0" x2="514.0" y2="295.0" stroke-width="1.0"/>
<line x1="476.3" y1="414.0" x2="518.2" y2="414.0" stroke-width="1.0"/>
<line x1="476.3" y1="421.6" x2="518.2" y2="421.6" stroke-width="1.0"/>
<text transform="translate(507.17,267.00) rotate(-90) scale(0.938,1)" font-size="8.3" stroke="#141414" stroke-width="0.5">128</text>
<text transform="translate(507.17,293.50) rotate(-90) scale(0.938,1)" font-size="8.3" stroke="#141414" stroke-width="0.5">315</text>
<text transform="translate(508.66,353.90) rotate(-90) scale(1.191,1)" font-size="8.0" stroke="#141414" stroke-width="0.5">2220</text>
<text transform="translate(511.77,415.00) rotate(-90) scale(0.982,1)" font-size="8.3" stroke="#141414" stroke-width="0.5">115</text>
<text transform="translate(489.47,431.00) rotate(-90) scale(1.085,1)" font-size="8.3" stroke="#141414" stroke-width="0.5">20</text>
<line x1="490.3" y1="403.4" x2="490.3" y2="427.5" stroke-width="1.0"/>
<line x1="487.9" y1="411.7" x2="492.7" y2="416.3" stroke-width="1.7"/>
<line x1="487.9" y1="419.3" x2="492.7" y2="423.9" stroke-width="1.7"/>
<line x1="444.7" y1="446.5" x2="480.0" y2="446.5" stroke-width="1.0"/>
<line x1="453.0" y1="449.0" x2="455.8" y2="444.0" stroke-width="1.7"/>
<line x1="474.1" y1="449.0" x2="476.9" y2="444.0" stroke-width="1.7"/>
<line x1="454.4" y1="422.0" x2="454.4" y2="450.3" stroke-width="1.0"/>
<line x1="475.5" y1="422.0" x2="475.5" y2="450.3" stroke-width="1.0"/>
<text transform="translate(456.00,441.30) scale(1.050,1)" font-size="8.8" stroke="#141414" stroke-width="0.5" letter-spacing="1.13">400</text>
<text transform="translate(488.46,384.70) rotate(-90) scale(1.201,1)" font-size="8.0" stroke="#141414" stroke-width="0.5">АБНР2-38-2б-1</text>
<line x1="493.0" y1="310.6" x2="493.0" y2="386.6" stroke-width="1.0"/>
<line x1="493.0" y1="386.6" x2="471.4" y2="415.6" stroke-width="1.0"/>
<line x1="493.0" y1="310.6" x2="469.2" y2="292.7" stroke-width="1.0"/>
</g>
</svg>
</body></html>
